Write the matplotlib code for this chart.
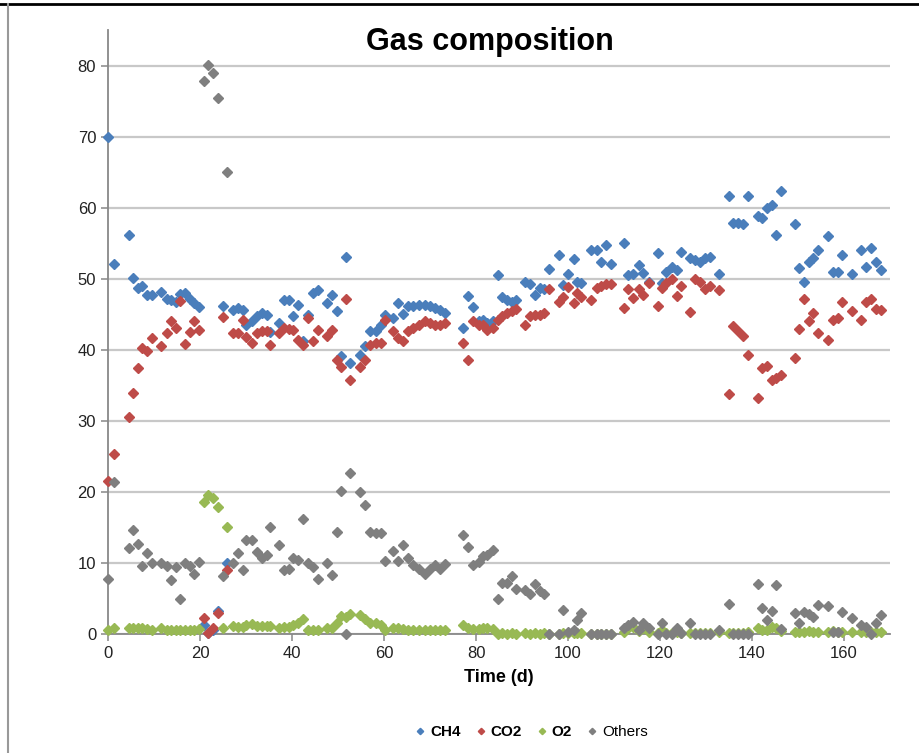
import matplotlib
matplotlib.use("Agg")
import matplotlib.pyplot as plt
from matplotlib.lines import Line2D

# sampling days (d)
days = [0.0, 1.3, 4.6, 5.5, 6.6, 7.5, 8.5, 9.6, 11.5, 12.8, 13.7, 14.8, 15.7, 16.7, 17.8, 18.8, 19.8,
        20.9, 21.8, 22.9, 24.0, 24.9, 25.8, 27.2, 28.3, 29.3, 30.1, 31.2, 32.3, 33.4, 34.5, 35.2, 37.2, 38.3, 39.3, 40.3, 41.4, 42.5, 43.5, 44.6, 45.6, 47.5, 48.6, 49.7, 50.6, 51.7, 52.7, 54.8, 55.9, 57.0, 58.2, 59.3, 60.2,
        62.0, 63.1, 64.2, 65.3, 66.4, 67.5, 68.9, 70.0, 71.1, 72.2, 73.3, 77.2, 78.3, 79.4, 80.7, 81.6, 82.3, 83.6,
        84.7, 85.6, 86.7, 87.8, 88.8, 90.7, 91.7, 92.8, 93.8, 94.8, 95.9, 98.0, 99.0, 99.9, 101.2, 101.9, 102.9, 105.1, 106.2, 107.2, 108.3, 109.4,
        112.2, 113.1, 114.2, 115.4, 116.4, 117.5, 119.6, 120.5, 121.4, 122.5, 123.6, 124.5, 126.6, 127.6, 128.7, 129.8, 130.9, 132.9,
        135.0, 135.9, 137.0, 138.1, 139.2, 141.2, 142.1, 143.2, 144.3, 145.2, 146.4, 149.3, 150.3, 151.3, 152.3, 153.3, 154.4, 156.6, 157.5, 158.6, 159.6, 161.7, 163.7, 164.8, 165.8, 166.9, 168.0]

ch4 = [70.0, 52.1, 56.2, 50.1, 48.7, 49.0, 47.7, 47.7, 48.1, 47.2, 47.0, 46.7, 47.8, 48.0, 47.2, 46.6, 46.0,
       1.3, 0.2, 0.5, 3.3, 46.2, 10.0, 45.6, 45.9, 45.6, 43.5, 44.0, 44.7, 45.2, 44.9, 42.5, 43.8, 47.0, 47.0, 44.8, 46.3, 41.2, 44.9, 48.0, 48.4, 46.6, 47.7, 45.4, 39.1, 53.1, 38.2, 39.3, 40.5, 42.6, 42.6, 43.5, 44.9,
       44.5, 46.6, 45.0, 46.1, 46.1, 46.3, 46.3, 46.1, 45.9, 45.6, 45.2, 43.1, 47.6, 46.0, 44.0, 44.2, 43.8, 44.0,
       50.6, 47.5, 47.0, 46.8, 47.0, 49.6, 49.2, 47.7, 48.7, 48.5, 51.4, 53.3, 49.1, 50.7, 52.8, 49.6, 49.4, 54.1, 54.1, 52.4, 54.8, 52.1,
       55.1, 50.6, 50.7, 52.0, 50.8, 49.6, 53.6, 49.4, 51.0, 51.7, 51.3, 53.7, 52.9, 52.7, 52.4, 52.9, 53.1, 50.7,
       61.6, 57.9, 57.9, 57.7, 61.6, 58.8, 58.5, 60.0, 60.4, 56.2, 62.3, 57.7, 51.5, 49.5, 52.4, 52.9, 54.1, 56.0, 51.0, 50.9, 53.4, 50.7, 54.1, 51.7, 54.3, 52.4, 51.3]

co2 = [21.6, 25.4, 30.5, 33.9, 37.5, 40.2, 39.9, 41.6, 40.5, 42.3, 44.1, 43.1, 46.9, 40.8, 42.5, 44.1, 42.8,
       2.2, 0.1, 0.8, 3.0, 44.6, 9.0, 42.3, 42.3, 44.2, 41.8, 40.9, 42.3, 42.6, 42.6, 40.7, 42.3, 43.1, 42.9, 42.8, 41.4, 40.7, 44.5, 41.2, 42.8, 41.9, 42.8, 38.6, 37.6, 47.1, 35.7, 37.6, 38.6, 40.7, 40.9, 40.9, 44.2,
       42.6, 41.6, 41.2, 42.6, 43.1, 43.5, 44.0, 43.8, 43.5, 43.5, 43.8, 41.0, 38.5, 44.0, 43.5, 43.5, 42.8, 43.1,
       44.2, 44.7, 45.2, 45.4, 45.7, 43.5, 44.7, 44.9, 44.9, 45.2, 48.5, 46.8, 47.5, 48.9, 46.6, 48.0, 47.5, 47.0, 48.7, 49.0, 49.2, 49.3,
       45.9, 48.5, 47.3, 48.5, 47.7, 49.4, 46.1, 48.7, 49.4, 49.9, 47.6, 49.0, 45.3, 50.0, 49.6, 48.5, 49.0, 48.4,
       33.8, 43.4, 42.6, 41.9, 39.3, 33.2, 37.4, 37.7, 35.8, 36.1, 36.5, 38.8, 42.9, 47.1, 44.1, 45.2, 42.4, 41.4, 44.2, 44.5, 46.8, 45.5, 44.2, 46.7, 47.1, 45.7, 45.6]

o2 = [0.6, 0.9, 0.9, 0.9, 0.8, 0.8, 0.7, 0.6, 0.8, 0.6, 0.5, 0.6, 0.5, 0.6, 0.6, 0.6, 0.7,
      18.6, 19.6, 19.1, 17.9, 0.8, 15.0, 1.2, 1.0, 1.0, 1.3, 1.4, 1.2, 1.1, 1.1, 1.1, 0.8, 1.0, 1.0, 1.3, 1.5, 2.1, 0.6, 0.6, 0.6, 0.9, 0.9, 1.5, 2.5, 2.4, 2.8, 2.7, 2.1, 1.6, 1.5, 1.3, 0.6,
      0.8, 0.8, 0.7, 0.6, 0.6, 0.6, 0.6, 0.6, 0.6, 0.6, 0.6, 1.3, 0.9, 0.7, 0.7, 0.8, 0.8, 0.7,
      0.0, 0.1, 0.0, 0.1, 0.0, 0.1, 0.0, 0.1, 0.0, 0.1, 0.0, 0.0, 0.1, 0.2, 0.1, 0.2, 0.1, 0.0, 0.0, 0.0, 0.0, 0.0,
      0.3, 0.9, 1.0, 0.4, 0.8, 0.3, 0.2, 0.5, 0.2, 0.2, 0.3, 0.2, 0.2, 0.2, 0.2, 0.2, 0.2, 0.3,
      0.2, 0.2, 0.2, 0.2, 0.3, 0.8, 0.6, 0.5, 1.0, 0.8, 0.4, 0.3, 0.3, 0.3, 0.4, 0.3, 0.3, 0.3, 0.4, 0.3, 0.3, 0.3, 0.3, 0.3, 0.3, 0.3, 0.3]

others = [7.8, 21.4, 12.1, 14.6, 12.7, 9.6, 11.4, 10.0, 10.0, 9.6, 7.6, 9.5, 5.0, 10.0, 9.6, 8.5, 10.2,
          77.9, 80.1, 79.0, 75.4, 8.1, 65.0, 10.0, 11.4, 9.0, 13.2, 13.2, 11.6, 10.7, 11.1, 15.0, 12.5, 9.0, 9.1, 10.7, 10.4, 16.2, 10.0, 9.5, 7.7, 10.0, 8.3, 14.3, 20.2, 0.0, 22.7, 20.0, 18.2, 14.4, 14.2, 14.2, 10.3,
          11.7, 10.3, 12.5, 10.7, 9.7, 9.1, 8.5, 9.2, 9.7, 9.1, 9.9, 13.9, 12.2, 9.7, 10.2, 11.0, 11.1, 11.8,
          5.0, 7.2, 7.2, 8.1, 6.4, 6.2, 5.7, 7.0, 6.0, 5.7, 0.0, 0.0, 3.4, 0.3, 0.5, 2.0, 2.9, 0.0, 0.0, 0.0, 0.0, 0.0,
          0.8, 1.3, 1.7, 0.5, 1.5, 0.8, 0.0, 1.5, 0.0, 0.0, 0.8, 0.1, 1.6, 0.0, 0.0, 0.0, 0.0, 0.6,
          4.2, 0.0, 0.0, 0.0, 0.0, 7.1, 3.6, 2.0, 3.3, 6.9, 0.7, 3.0, 1.6, 3.1, 2.8, 2.4, 4.1, 3.9, 0.3, 0.3, 3.1, 2.2, 1.3, 1.0, 0.0, 1.6, 2.7]

labels = ["CH4", "CO2", "O2", "Others"]
colors = ["#4A7EBB", "#BE4B48", "#98B954", "#7F7F7F"]

plt.rcParams['font.family'] = ['Liberation Sans', 'DejaVu Sans']

fig = plt.figure(figsize=(9.19, 7.53), dpi=100)
ax = fig.add_axes([0.1175, 0.158, 0.851, 0.802])

for vals, lab, col in zip([ch4, co2, o2, others], labels, colors):
    ax.plot(days, vals, linestyle="none", marker="D", markersize=4.6,
            color=col, label=lab, clip_on=False, zorder=3)

ax.set_xlim(0, 170)
ax.set_ylim(0, 85)
ax.set_xticks(range(0, 161, 20))
ax.set_yticks(range(0, 81, 10))
ax.grid(axis="y", color="#C8C8C8", linewidth=1.6)
ax.set_axisbelow(True)
for s in ["top", "right"]:
    ax.spines[s].set_visible(False)
ax.spines["left"].set_color("#888888")
ax.spines["bottom"].set_color("#888888")
ax.spines["left"].set_linewidth(1.3)
ax.spines["bottom"].set_linewidth(1.3)
ax.tick_params(axis="both", length=5, width=1.1, color="#888888",
               labelsize=12, labelcolor="#222222")

ax.set_xlabel("Time (d)", fontsize=13, fontweight="bold", labelpad=6)
fig.text(0.533, 0.944, "Gas composition", ha="center", va="center",
         fontsize=22, fontweight="bold")

leg = fig.legend(loc="center", bbox_to_anchor=(0.576, 0.028), ncol=4, frameon=False,
                 fontsize=11, handletextpad=0.05, columnspacing=0.7, markerscale=0.7,
                 handlelength=1.2)
for t in leg.get_texts()[:3]:
    t.set_fontweight("bold")

# page frame
fig.add_artist(Line2D([0, 1], [0.995, 0.995], transform=fig.transFigure, color="black", linewidth=2))
fig.add_artist(Line2D([0.009, 0.009], [0, 0.995], transform=fig.transFigure, color="#999999", linewidth=1.5))

fig.savefig("out.png", dpi=100)
